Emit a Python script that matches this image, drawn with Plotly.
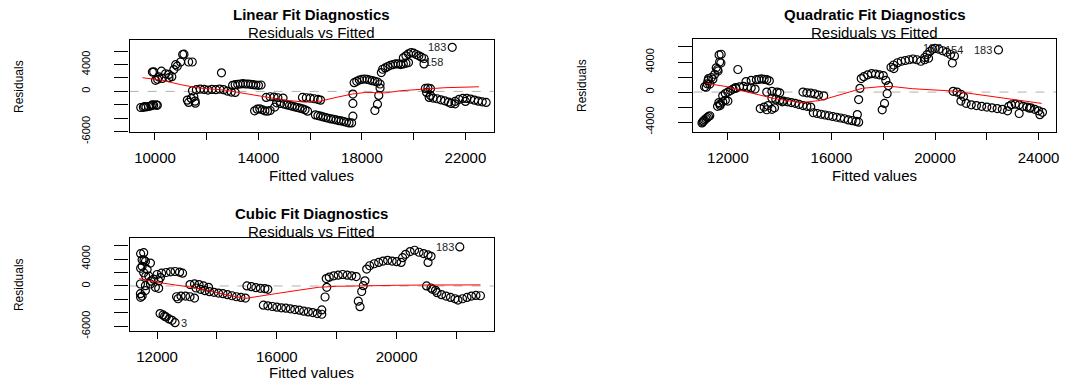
import plotly.graph_objects as go

# ---------------- data ----------------
lin_fitted = [9450, 9550, 9650, 9750, 9850, 9950, 10050, 10090, 9600, 9900,
              9900, 10020, 10150, 10250, 10280, 10410, 10540, 10540, 10730, 10800, 10860, 10990, 11070, 11120, 11300, 11440, 9950, 10100, 10650,
              12570,
              11250, 11400, 11500, 11560, 11550, 11300,
              11450, 11600, 11750, 11900, 12050, 12200, 12350, 12500, 12650, 12800, 12950, 13100,
              13000, 13100, 13200, 13300, 13400, 13500, 13600, 13700, 13800, 13900, 14000, 14100,
              13850, 13950, 14050, 14150, 14250, 14350, 14450,
              14300, 14450, 14600, 14750, 14950, 14630,
              14700, 14850, 15000, 15100, 15200, 15300, 15400, 15500, 15600, 15700, 15800, 15900,
              15700, 15850, 16000, 16150, 16300, 16400,
              16200, 16300, 16400, 16500, 16600, 16700, 16800, 16900, 17000, 17100, 17200, 17300, 17400, 17500, 17600, 17650,
              17650, 17650, 18500, 18600, 18650, 18700, 18700, 18750,
              17700, 17800, 17900, 18000, 18100, 18200, 18300, 18400, 18500, 18600,
              18800, 18900, 19000, 19100, 19200, 19300, 19400, 19500, 19600, 19700, 19800,
              19600, 19700, 19800, 19900, 20000, 20100, 20200, 20300, 20400, 20400,
              21490,
              20450, 20550, 20650, 20500, 20650,
              20600, 20750, 20900, 21050, 21200, 21350,
              21450, 21600, 21750, 21900, 22050, 22200, 22350, 22500, 22650, 22800, 21600, 22000]
lin_resid = [-2400, -2380, -2320, -2250, -2150, -2050, -2000, -2080, -2250, -2000,
             2880, 1650, 2150, 3020, 1940, 2630, 2040, 2530, 3260, 3990, 3750, 4380, 5500, 5550, 4380, 4380, 2920, 1800, 2200,
             2770,
             -1300, -1050, -800, -1750, -1450, -1650,
             100, 250, 350, 300, 200, 300, 250, 350, 250, 50, -100, -150,
             900, 1000, 1050, 1100, 1150, 1100, 1100, 1050, 1000, 950, 900, 950,
             -2900, -2650, -2600, -2750, -2900, -2950, -2850,
             -900, -800, -850, -950, -1000, -2340,
             -1700, -1800, -1900, -2000, -2100, -2200, -2300, -2400, -2500, -2600, -2750, -2950,
             -900, -950, -1000, -1100, -1200, -1300,
             -3500, -3600, -3700, -3800, -3900, -4000, -4100, -4150, -4250, -4350, -4400, -4500, -4600, -4700, -4700, -3700,
             -400, -1800, -2850, -1900, -600, 500, 1100, 2800,
             1300, 1500, 1700, 1800, 1850, 1800, 1700, 1600, 1500, 1400,
             3300, 3500, 3700, 3900, 4000, 4100, 4100, 4000, 4100, 4200, 4300,
             5000, 5300, 5600, 5800, 5700, 5500, 5300, 5100, 4900, 4090,
             6570,
             450, 500, 400, -150, -600,
             -900, -1000, -1100, -1250, -1400, -1600,
             -1800, -1500, -1200, -1050, -1050, -1150, -1300, -1450, -1550, -1650, -1850, -1500]
lin_smooth_x = [9520, 10300, 11000, 11700, 12700, 13500, 14265, 15000, 15800, 16400, 17000, 17630, 18150, 18900, 19500, 20460, 21200, 22520]
lin_smooth_y = [2040, 1650, 1000, 500, 190, -300, -880, -1300, -1600, -1450, -900, -390, -150, -220, 100, 340, 550, 690]
lin_label_x = [21490, 21370]
lin_label_y = [6570, 4450]
lin_label_text = ["183", "158"]

quad_fitted = [11000, 11030, 11060, 11100, 11150, 11200, 11250, 11300,
               11100, 11165, 11200, 11230, 11300, 11360, 11420, 11490, 11550, 11620, 11660, 11680, 11730, 11740, 11600, 11250,
               11600, 11700, 11800, 11900, 11700, 12000, 11650,
               11800, 11900, 12000, 12100, 12200, 12300,
               12300, 12450, 12600, 12750, 12900, 13050,
               12385,
               12700, 12900, 13100, 13200, 13300, 13400, 13500, 13600,
               13250, 13400, 13550, 13700, 13800, 13500,
               13500, 13700, 13900, 14000,
               13700, 13850, 14000, 14150, 14300, 14450, 14600, 14750, 14900, 15050, 15200, 14100,
               14900, 15050, 15200, 15350, 15500, 15700,
               15300, 15450, 15600, 15750, 15900, 16050, 16200, 16350, 16500, 16650, 16800, 16950, 17050,
               17000, 17050, 17100,
               17150, 17250, 17400, 17550, 17700, 17850, 18000,
               18100, 18200, 18150, 18050, 17960,
               18300, 18410, 18400, 18550, 18700, 18850, 19000, 19150, 19300, 19450, 19600, 19750,
               19600, 19700, 19800, 19900, 20000, 20150, 20300, 20450, 20600, 20750, 20670,
               22450,
               20700, 20850, 21000, 21100,
               21000, 21200, 21400, 21600, 21800, 22000, 22200, 22400, 22600, 22800,
               22850, 22950, 23100, 23250, 23400, 23550, 23700, 23850, 24000, 24150, 23250, 23650, 24050]
quad_resid = [-4100, -3950, -3850, -3700, -3550, -3400, -3250, -3150,
              700, 645, 1100, 1510, 1070, 1935, 1720, 2360, 3225, 2800, 4940, 4000, 3870, 5030, 3000, 1800,
              -1900, -1600, -1300, -1100, -1800, -1200, -1400,
              -500, -200, 0, 200, 400, 500,
              600, 700, 750, 650, 550, 400,
              3000,
              1400, 1550, 1650, 1700, 1750, 1700, 1650, 1500,
              -2200, -2000, -1800, -2300, -2100, -2350,
              0, 100, 0, -100,
              -800, -950, -1100, -1200, -1300, -1400, -1500, -1650, -1800, -1900, -2000, -1300,
              0, -100, -150, -250, -400, -500,
              -2750, -2850, -2950, -3050, -3150, -3250, -3350, -3450, -3550, -3700, -3800, -3900, -4000,
              -3000, -1000, 500,
              1800, 2050, 2300, 2450, 2400, 2300, 2200,
              1550, 870, -220, -1510, -2360,
              3300, 3130, 3600, 3900, 4100, 4200, 4300, 4400, 4300, 4100, 4300, 4500,
              4600, 5000, 5400, 5700, 5800, 5700, 5500, 5300, 5000, 4800, 3870,
              5600,
              100, 0, -300, -600,
              -1200, -1500, -1700, -1800, -1900, -2000, -2100, -2200, -2300, -2500,
              -1900, -1700, -1600, -1700, -1900, -2000, -2100, -2300, -2500, -2700, -2850, -2150, -3000]
quad_smooth_x = [11165, 12000, 12385, 13000, 13795, 14500, 14820, 15590, 16490, 17190, 17960, 18350, 19120, 20650, 21500, 22320, 23200, 24120]
quad_smooth_y = [1160, 700, 300, -200, -860, -1250, -1420, -1100, -220, 500, 740, 740, 450, 150, -250, -650, -1050, -1510]
quad_label_x = [20480, 21320, 22450]
quad_label_y = [5850, 5600, 5600]
quad_label_text = ["187", "154", "183"]

cub_fitted = [11553, 11500, 11610, 11777, 11500, 11667, 11553, 11720, 11887, 12053, 11443, 11610, 11777, 11943, 12053,
              11443, 11500, 11610, 12110, 11450, 11563, 11450, 11620, 11793, 11450,
              12000, 12150, 12300, 12450, 12600, 12750, 12850,
              12100, 12200, 12300, 12400, 12500, 12250, 12600,
              12650, 12800, 12950, 13100, 13250, 12700,
              13100, 13250, 13400, 13550, 13720,
              13300, 13450, 13600, 13750, 13900, 14050, 14200, 14350, 14500, 14650, 14800, 14950,
              15000, 15150, 15300, 15450, 15600, 15700,
              15550, 15700, 15850, 16000, 16150, 16300, 16450, 16600, 16750, 16900, 17050, 17200, 17350, 17500, 17500,
              17610, 17667,
              17650, 17750, 17900, 18050, 18200, 18350, 18500, 18650,
              18777, 18720, 18833, 18887, 18943,
              19000, 19100, 19250, 19400, 19550, 19700, 19850, 20000, 20150,
              20200, 20300, 20450, 20600, 20750, 20900, 21050, 21150, 21050,
              22110,
              21000, 21150, 21300,
              21200, 21350, 21500, 21650, 21800, 21950, 22050, 22200, 22350, 22500, 22650, 22800]
cub_resid = [4935, 3885, 3640, 3400, 2920, 2450, 1960, 1480, 1000, 760, 290, 40, 290, -200, -345,
             -1150, -1500, -680, 1240, 4790, 3830, 2630, 1440, 720, -1680,
             1700, 1900, 2000, 2100, 2150, 2050, 1900,
             -4100, -4300, -4600, -4900, -5100, -4500, -5450,
             -1600, -1500, -1500, -1600, -1800, -1900,
             200, 300, 200, 0, -200,
             -300, -500, -700, -850, -950, -1050, -1150, -1300, -1450, -1600, -1700, -1800,
             0, -100, -250, -350, -400, -500,
             -2850, -2950, -3050, -3150, -3250, -3300, -3400, -3500, -3600, -3750, -3850, -3950, -4100, -4200, -3550,
             -1640, -200,
             1100, 1300, 1500, 1600, 1700, 1600, 1500, 1400,
             -3080, -2260, -820, 40, 760,
             2500, 3000, 3300, 3500, 3700, 3800, 3700, 3600, 3500,
             4200, 4700, 5100, 5300, 5000, 4800, 4600, 4400, 3500,
             5800,
             0, -300, -650,
             -500, -1000, -1300, -1500, -1700, -1900, -2100, -1900, -1700, -1500, -1400, -1450]
cub_smooth_x = [11400, 12050, 12600, 13167, 13720, 14300, 14950, 15450, 15950, 16700, 17390, 18000, 18720, 20000, 20950, 22000, 22800]
cub_smooth_y = [1100, 520, 150, -200, -700, -1300, -1850, -1550, -1150, -650, -200, -50, 40, 100, 140, 150, 160]
cub_label_x = [22110, 12600]
cub_label_y = [5800, -5450]
cub_label_text = ["183", "3"]

titles = ["Linear Fit Diagnostics", "Quadratic Fit Diagnostics", "Cubic Fit Diagnostics"]
subtitle = "Residuals vs Fitted"
x_title = "Fitted values"
y_title = "Residuals"

# ---------------- layout geometry (pixels) ----------------
W, H = 1077, 392
FONT = "Liberation Sans, Arial, sans-serif"

def fx(p):
    return p / W

def fy(p):
    return 1 - p / H

panels = [
    dict(fit=lin_fitted, res=lin_resid, sx=lin_smooth_x, sy=lin_smooth_y,
         lx=lin_label_x, ly=lin_label_y, lt=lin_label_text, lpos=["left", "left"],
         box=(130, 495, 41, 136.5), xr=[9020, 23090], yr=[-6100, 7700],
         xt=[10000, 12000, 14000, 16000, 18000, 20000, 22000], xl=[10000, 14000, 18000, 22000],
         yt=[-6000, -4000, -2000, 0, 2000, 4000, 6000], yl=[-6000, 0, 4000],
         t1=15, t2=33.5, xlab_y=181, ylab_x=19),
    dict(fit=quad_fitted, res=quad_resid, sx=quad_smooth_x, sy=quad_smooth_y,
         lx=quad_label_x, ly=quad_label_y, lt=quad_label_text, lpos=["left", "left", "left"],
         box=(695.4, 1059.4, 40.7, 136), xr=[10670, 24690], yr=[-5290, 7000],
         xt=[12000, 14000, 16000, 18000, 20000, 22000, 24000], xl=[12000, 16000, 20000, 24000],
         yt=[-4000, -2000, 0, 2000, 4000, 6000], yl=[-4000, 0, 4000],
         t1=15, t2=33.5, xlab_y=181, ylab_x=583),
    dict(fit=cub_fitted, res=cub_resid, sx=cub_smooth_x, sy=cub_smooth_y,
         lx=cub_label_x, ly=cub_label_y, lt=cub_label_text, lpos=["left", "right"],
         box=(130, 495, 245.3, 341), xr=[11083, 23240], yr=[-6620, 7150],
         xt=[12000, 14000, 16000, 18000, 20000, 22000], xl=[12000, 16000, 20000],
         yt=[-6000, -4000, -2000, 0, 2000, 4000, 6000], yl=[-6000, 0, 4000],
         t1=220.5, t2=239, xlab_y=384, ylab_x=19),
]

fig = go.Figure()
annotations = []
shapes = []
layout = dict(width=W, height=H, margin=dict(l=0, r=0, t=0, b=0),
              paper_bgcolor="white", plot_bgcolor="white", showlegend=False,
              font=dict(family=FONT, color="black"))

for i, p in enumerate(panels):
    n = "" if i == 0 else str(i + 1)
    xa, ya = "x" + n, "y" + n
    l, r, t, b = p["box"]
    layout["xaxis" + n] = dict(
        domain=[fx(l), fx(r)], range=p["xr"], anchor=ya,
        showgrid=False, zeroline=False, showline=True, mirror=True,
        linecolor="black", linewidth=1.3,
        ticks="outside", ticklen=7, tickwidth=1, tickcolor="black",
        tickvals=p["xt"], ticktext=[str(v) if v in p["xl"] else "" for v in p["xt"]],
        tickfont=dict(family=FONT, size=15, color="black"), ticklabelstandoff=5)
    layout["yaxis" + n] = dict(
        domain=[fy(b), fy(t)], range=p["yr"], anchor=xa,
        showgrid=False, zeroline=False, showline=True, mirror=True,
        linecolor="black", linewidth=1.3,
        ticks="outside", ticklen=14, tickwidth=1, tickcolor="black",
        tickvals=p["yt"], ticktext=[str(v) if v in p["yl"] else "" for v in p["yt"]],
        tickangle=-90, tickfont=dict(family=FONT, size=11, color="black"),
        ticklabelstandoff=20)

    fig.add_trace(go.Scatter(x=p["fit"], y=p["res"], mode="markers", xaxis=xa, yaxis=ya,
                             marker=dict(symbol="circle-open", size=8, color="black",
                                         line=dict(width=1.2, color="black")),
                             hoverinfo="skip"))
    fig.add_trace(go.Scatter(x=p["sx"], y=p["sy"], mode="lines", xaxis=xa, yaxis=ya,
                             line=dict(color="red", width=1), hoverinfo="skip"))
    shapes.append(dict(type="line", xref=xa + " domain", yref=ya, x0=0, x1=1, y0=0, y1=0,
                       line=dict(color="#b0b0b0", width=1, dash="dash"), layer="below"))

    for lx, ly, lt, pos in zip(p["lx"], p["ly"], p["lt"], p["lpos"]):
        annotations.append(dict(x=lx, y=ly, xref=xa, yref=ya, text=lt, showarrow=False,
                                xanchor="right" if pos == "left" else "left",
                                xshift=-5 if pos == "left" else 5, borderpad=0,
                                font=dict(family=FONT, size=11, color="#222222")))

    cx = fx((l + r) / 2)
    annotations.append(dict(x=cx, y=fy(p["t1"]), xref="paper", yref="paper", text="<b>" + titles[i] + "</b>",
                            showarrow=False, xanchor="center", yanchor="middle", borderpad=0,
                            font=dict(family=FONT, size=15, color="black")))
    annotations.append(dict(x=cx, y=fy(p["t2"]), xref="paper", yref="paper", text=subtitle,
                            showarrow=False, xanchor="center", yanchor="middle", borderpad=0,
                            font=dict(family=FONT, size=15, color="black")))
    annotations.append(dict(x=cx, y=fy(p["xlab_y"]), xref="paper", yref="paper", text=x_title,
                            showarrow=False, xanchor="center", yanchor="middle", borderpad=0,
                            font=dict(family=FONT, size=15, color="black")))
    annotations.append(dict(x=fx(p["ylab_x"]), y=fy((t + b) / 2), xref="paper", yref="paper", text=y_title,
                            showarrow=False, xanchor="center", yanchor="middle", textangle=-90,
                            font=dict(family=FONT, size=12, color="black")))

layout["annotations"] = annotations
layout["shapes"] = shapes
fig.update_layout(**layout)
fig.write_html("out.html")
